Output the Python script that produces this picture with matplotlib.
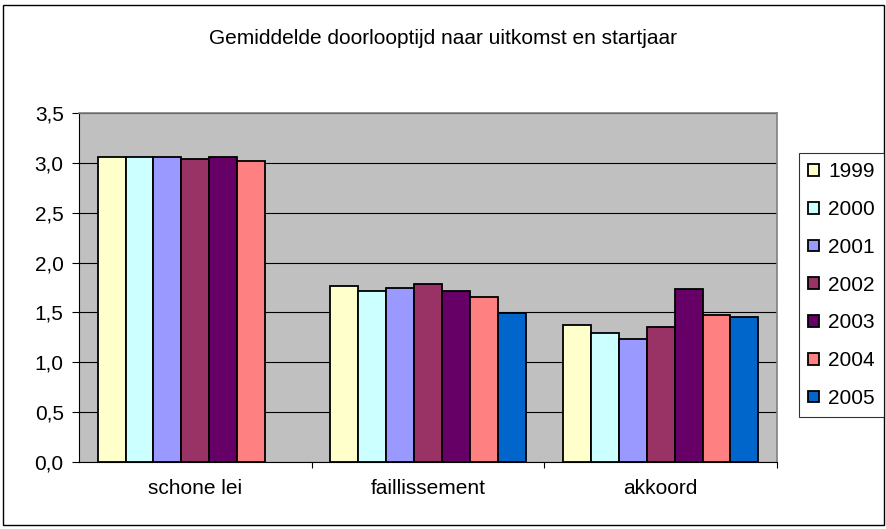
import numpy as np
import matplotlib
matplotlib.use('Agg')
from matplotlib import pyplot as plt
from matplotlib.patches import Rectangle

plt.rcParams['font.family'] = ['Liberation Sans', 'DejaVu Sans']

categories = ['schone lei', 'faillissement', 'akkoord']
years = ['1999', '2000', '2001', '2002', '2003', '2004', '2005']
values = {
    '1999': [3.06, 1.77, 1.37],
    '2000': [3.06, 1.71, 1.29],
    '2001': [3.06, 1.75, 1.23],
    '2002': [3.04, 1.79, 1.35],
    '2003': [3.06, 1.71, 1.73],
    '2004': [3.02, 1.65, 1.47],
    '2005': [np.nan, 1.49, 1.45],
}
colors = ['#FFFFCC', '#CCFFFF', '#9999FF', '#993366', '#660066', '#FF8080', '#0066CC']
yticks = [0.0, 0.5, 1.0, 1.5, 2.0, 2.5, 3.0, 3.5]

W, H = 887, 529
fs = 15
fig = plt.figure(figsize=(W / 100, H / 100), dpi=100)
ax = fig.add_axes([79 / W, 1 - 462 / H, (777 - 79) / W, (462 - 113) / H])
ax.set_facecolor('#C0C0C0')

x = np.arange(len(categories))
bw = 0.12
for i, yr in enumerate(years):
    ax.bar(x + (i - 3) * bw, values[yr], width=bw, color=colors[i],
           edgecolor='black', linewidth=1.3, label=yr, zorder=3)

ax.set_xlim(-0.5, 2.5)
ax.set_ylim(0, 3.5)
ax.set_yticks(yticks)
ax.set_yticklabels([f'{v:.1f}'.replace('.', ',') for v in yticks], fontsize=fs)
ax.yaxis.grid(True, color='black', linewidth=0.8, zorder=0)
ax.set_axisbelow(True)

ax.set_xticks(x)
ax.set_xticklabels(categories, fontsize=fs)
ax.set_xticks([0.5, 1.5, 2.5], minor=True)
ax.tick_params(axis='x', which='major', length=0, pad=12)
ax.tick_params(axis='x', which='minor', length=4, width=0.8)
ax.tick_params(axis='y', length=5, width=0.8, pad=6)

for side in ['top', 'right']:
    ax.spines[side].set_color('#808080')
    ax.spines[side].set_linewidth(1.2)
ax.spines['left'].set_linewidth(0.8)
ax.spines['bottom'].set_linewidth(0.8)

fig.text(0.5, 1 - 38 / H, 'Gemiddelde doorlooptijd naar uitkomst en startjaar',
         ha='center', va='center', fontsize=fs)

leg = fig.legend(loc='upper left', bbox_to_anchor=(799 / W, 1 - 153 / H),
                 fontsize=fs, frameon=True, fancybox=False, edgecolor='black',
                 handlelength=0.5, handleheight=0.5, handletextpad=0.45,
                 labelspacing=0.9, borderpad=0.45, borderaxespad=0)
leg.get_frame().set_linewidth(0.8)

fig.patches.append(Rectangle((3 / W, 4 / H), (W - 6) / W, (H - 9) / H,
                             transform=fig.transFigure, fill=False,
                             edgecolor='black', linewidth=1))

fig.savefig('out.png', dpi=100)
